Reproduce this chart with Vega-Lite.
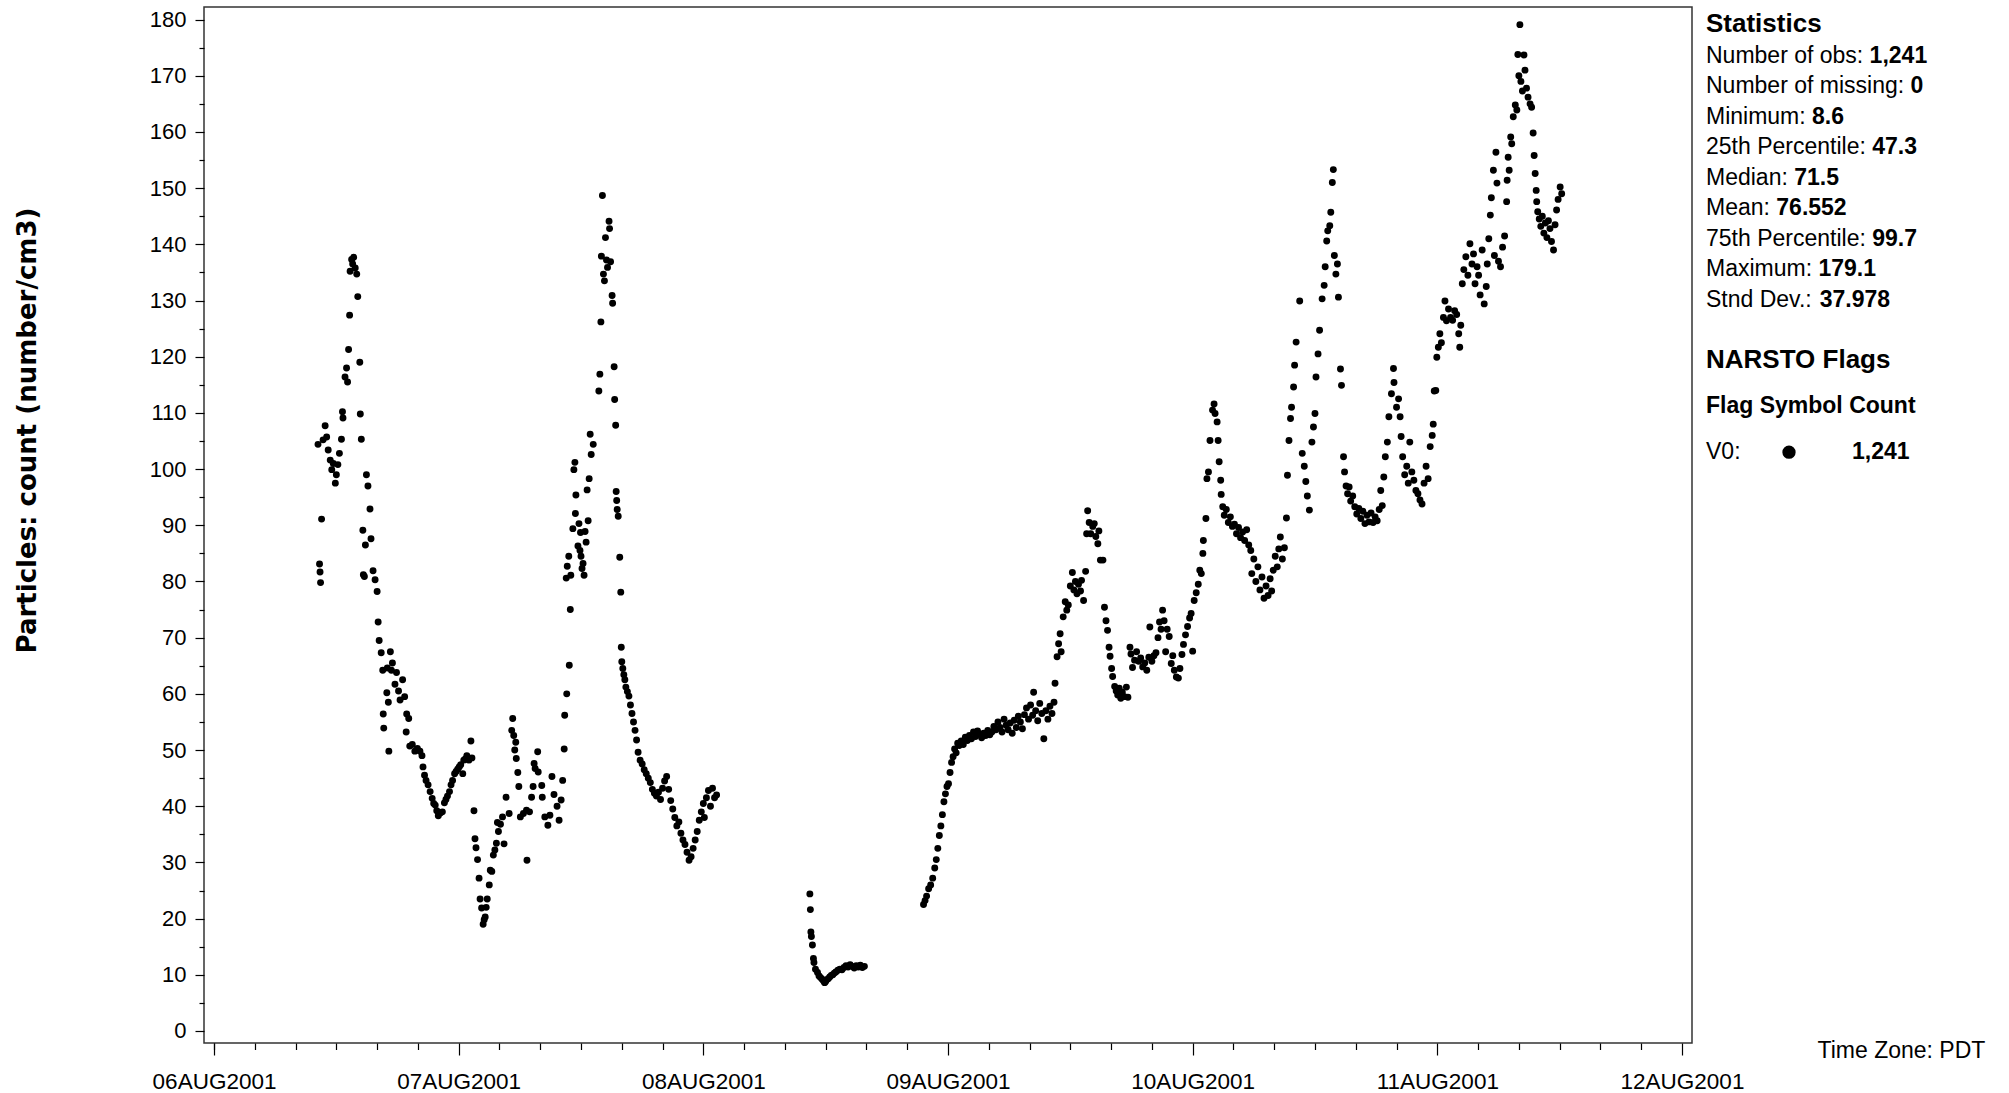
{
"$schema": "https://vega.github.io/schema/vega-lite/v6.json",
"width": 1488,
"height": 1036,
"autosize": {"type": "none"},
"padding": {"left": 204, "top": 7, "right": 317, "bottom": 50},
"background": "white",
"config": {"view": {"stroke": "#333", "strokeWidth": 1.5}, "font": "Liberation Sans"},
"datasets": {
"obs": [
{"t":"2001-08-06T10:12","v":104.4},{"t":"2001-08-06T10:21","v":83.1},{"t":"2001-08-06T10:24","v":81.7},{"t":"2001-08-06T10:27","v":79.8},{"t":"2001-08-06T10:33","v":91.1},{"t":"2001-08-06T10:42","v":105.2},{"t":"2001-08-06T10:54","v":107.7},{"t":"2001-08-06T11:03","v":105.7},{"t":"2001-08-06T11:12","v":103.4},{"t":"2001-08-06T11:24","v":101.6},{"t":"2001-08-06T11:33","v":99.9},{"t":"2001-08-06T11:42","v":101.0},{"t":"2001-08-06T11:54","v":97.5},{"t":"2001-08-06T12:00","v":99.0},{"t":"2001-08-06T12:09","v":100.8},{"t":"2001-08-06T12:18","v":102.8},{"t":"2001-08-06T12:30","v":105.3},{"t":"2001-08-06T12:36","v":110.2},{"t":"2001-08-06T12:39","v":109.1},{"t":"2001-08-06T12:51","v":116.4},{"t":"2001-08-06T13:00","v":118.0},{"t":"2001-08-06T13:06","v":115.5},{"t":"2001-08-06T13:12","v":121.3},{"t":"2001-08-06T13:18","v":127.4},{"t":"2001-08-06T13:21","v":135.2},{"t":"2001-08-06T13:30","v":137.3},{"t":"2001-08-06T13:36","v":136.5},{"t":"2001-08-06T13:42","v":137.7},{"t":"2001-08-06T13:51","v":135.8},{"t":"2001-08-06T14:00","v":134.7},{"t":"2001-08-06T14:06","v":130.7},{"t":"2001-08-06T14:18","v":119.0},{"t":"2001-08-06T14:21","v":109.8},{"t":"2001-08-06T14:27","v":105.3},{"t":"2001-08-06T14:36","v":89.1},{"t":"2001-08-06T14:39","v":81.2},{"t":"2001-08-06T14:45","v":80.9},{"t":"2001-08-06T14:51","v":86.5},{"t":"2001-08-06T14:57","v":99.0},{"t":"2001-08-06T15:06","v":97.0},{"t":"2001-08-06T15:18","v":92.9},{"t":"2001-08-06T15:24","v":87.6},{"t":"2001-08-06T15:36","v":81.9},{"t":"2001-08-06T15:48","v":80.3},{"t":"2001-08-06T16:00","v":78.2},{"t":"2001-08-06T16:06","v":72.8},{"t":"2001-08-06T16:12","v":69.5},{"t":"2001-08-06T16:24","v":67.3},{"t":"2001-08-06T16:33","v":64.2},{"t":"2001-08-06T16:36","v":56.4},{"t":"2001-08-06T16:39","v":53.9},{"t":"2001-08-06T16:57","v":60.2},{"t":"2001-08-06T17:00","v":64.6},{"t":"2001-08-06T17:06","v":58.5},{"t":"2001-08-06T17:09","v":49.8},{"t":"2001-08-06T17:18","v":67.5},{"t":"2001-08-06T17:24","v":64.2},{"t":"2001-08-06T17:30","v":65.5},{"t":"2001-08-06T17:45","v":61.7},{"t":"2001-08-06T17:54","v":63.8},{"t":"2001-08-06T18:06","v":60.5},{"t":"2001-08-06T18:15","v":58.9},{"t":"2001-08-06T18:30","v":62.5},{"t":"2001-08-06T18:42","v":59.5},{"t":"2001-08-06T18:51","v":53.2},{"t":"2001-08-06T18:54","v":56.4},{"t":"2001-08-06T19:06","v":55.6},{"t":"2001-08-06T19:12","v":50.7},{"t":"2001-08-06T19:27","v":51.0},{"t":"2001-08-06T19:42","v":49.8},{"t":"2001-08-06T19:57","v":50.3},{"t":"2001-08-06T20:12","v":49.8},{"t":"2001-08-06T20:24","v":49.0},{"t":"2001-08-06T20:30","v":47.0},{"t":"2001-08-06T20:39","v":45.5},{"t":"2001-08-06T20:48","v":44.6},{"t":"2001-08-06T21:00","v":43.8},{"t":"2001-08-06T21:12","v":42.6},{"t":"2001-08-06T21:24","v":41.4},{"t":"2001-08-06T21:33","v":40.5},{"t":"2001-08-06T21:42","v":40.2},{"t":"2001-08-06T21:51","v":39.2},{"t":"2001-08-06T22:00","v":38.3},{"t":"2001-08-06T22:12","v":38.8},{"t":"2001-08-06T22:24","v":39.0},{"t":"2001-08-06T22:36","v":40.6},{"t":"2001-08-06T22:45","v":41.2},{"t":"2001-08-06T22:54","v":41.8},{"t":"2001-08-06T23:06","v":42.6},{"t":"2001-08-06T23:15","v":43.8},{"t":"2001-08-06T23:24","v":44.6},{"t":"2001-08-06T23:36","v":45.8},{"t":"2001-08-06T23:45","v":46.2},{"t":"2001-08-06T23:54","v":46.6},
{"t":"2001-08-07T00:03","v":47.0},{"t":"2001-08-07T00:12","v":47.4},{"t":"2001-08-07T00:24","v":45.8},{"t":"2001-08-07T00:30","v":48.2},{"t":"2001-08-07T00:39","v":48.4},{"t":"2001-08-07T00:48","v":49.0},{"t":"2001-08-07T01:00","v":48.2},{"t":"2001-08-07T01:12","v":51.6},{"t":"2001-08-07T01:18","v":48.6},{"t":"2001-08-07T01:30","v":39.2},{"t":"2001-08-07T01:36","v":34.2},{"t":"2001-08-07T01:42","v":32.6},{"t":"2001-08-07T01:51","v":30.5},{"t":"2001-08-07T02:00","v":27.2},{"t":"2001-08-07T02:06","v":23.5},{"t":"2001-08-07T02:15","v":21.9},{"t":"2001-08-07T02:24","v":19.0},{"t":"2001-08-07T02:30","v":19.8},{"t":"2001-08-07T02:36","v":20.3},{"t":"2001-08-07T02:42","v":22.0},{"t":"2001-08-07T02:48","v":23.5},{"t":"2001-08-07T03:00","v":26.0},{"t":"2001-08-07T03:06","v":28.6},{"t":"2001-08-07T03:15","v":28.4},{"t":"2001-08-07T03:24","v":31.3},{"t":"2001-08-07T03:33","v":32.2},{"t":"2001-08-07T03:42","v":33.4},{"t":"2001-08-07T03:48","v":37.1},{"t":"2001-08-07T03:54","v":35.5},{"t":"2001-08-07T04:06","v":36.8},{"t":"2001-08-07T04:18","v":38.1},{"t":"2001-08-07T04:27","v":33.3},{"t":"2001-08-07T04:39","v":41.6},{"t":"2001-08-07T04:57","v":38.7},{"t":"2001-08-07T05:12","v":53.5},{"t":"2001-08-07T05:18","v":55.6},{"t":"2001-08-07T05:24","v":52.6},{"t":"2001-08-07T05:30","v":50.0},{"t":"2001-08-07T05:36","v":51.4},{"t":"2001-08-07T05:39","v":48.5},{"t":"2001-08-07T05:48","v":46.0},{"t":"2001-08-07T05:54","v":43.5},{"t":"2001-08-07T06:03","v":38.1},{"t":"2001-08-07T06:21","v":38.7},{"t":"2001-08-07T06:39","v":39.3},{"t":"2001-08-07T06:42","v":30.4},{"t":"2001-08-07T06:57","v":39.0},{"t":"2001-08-07T07:09","v":41.6},{"t":"2001-08-07T07:18","v":43.5},{"t":"2001-08-07T07:24","v":47.6},{"t":"2001-08-07T07:30","v":46.7},{"t":"2001-08-07T07:45","v":49.7},{"t":"2001-08-07T07:48","v":46.1},{"t":"2001-08-07T08:09","v":43.7},{"t":"2001-08-07T08:12","v":41.6},{"t":"2001-08-07T08:27","v":38.1},{"t":"2001-08-07T08:45","v":36.6},{"t":"2001-08-07T08:57","v":38.4},{"t":"2001-08-07T09:09","v":45.3},{"t":"2001-08-07T09:21","v":42.1},{"t":"2001-08-07T09:39","v":40.0},{"t":"2001-08-07T09:51","v":37.5},{"t":"2001-08-07T10:03","v":41.1},{"t":"2001-08-07T10:12","v":44.6},{"t":"2001-08-07T10:21","v":50.2},{"t":"2001-08-07T10:24","v":56.2},{"t":"2001-08-07T10:33","v":80.6},{"t":"2001-08-07T10:36","v":60.0},{"t":"2001-08-07T10:39","v":82.7},{"t":"2001-08-07T10:48","v":84.5},{"t":"2001-08-07T10:51","v":65.1},{"t":"2001-08-07T10:57","v":75.0},{"t":"2001-08-07T11:00","v":81.1},{"t":"2001-08-07T11:12","v":89.4},{"t":"2001-08-07T11:18","v":99.9},{"t":"2001-08-07T11:24","v":101.2},{"t":"2001-08-07T11:27","v":92.1},{"t":"2001-08-07T11:30","v":95.4},{"t":"2001-08-07T11:42","v":86.3},{"t":"2001-08-07T11:48","v":90.3},{"t":"2001-08-07T11:54","v":85.5},{"t":"2001-08-07T11:57","v":88.7},{"t":"2001-08-07T12:00","v":84.5},{"t":"2001-08-07T12:06","v":82.3},{"t":"2001-08-07T12:12","v":83.2},{"t":"2001-08-07T12:18","v":81.1},{"t":"2001-08-07T12:24","v":88.9},{"t":"2001-08-07T12:30","v":87.0},{"t":"2001-08-07T12:36","v":96.3},{"t":"2001-08-07T12:42","v":90.8},{"t":"2001-08-07T12:48","v":98.3},{"t":"2001-08-07T12:54","v":106.2},{"t":"2001-08-07T13:00","v":102.6},{"t":"2001-08-07T13:12","v":104.4},{"t":"2001-08-07T13:45","v":113.9},{"t":"2001-08-07T13:51","v":116.9},{"t":"2001-08-07T13:57","v":126.2},{"t":"2001-08-07T14:00","v":137.9},{"t":"2001-08-07T14:06","v":148.7},{"t":"2001-08-07T14:12","v":134.7},{"t":"2001-08-07T14:18","v":133.5},{"t":"2001-08-07T14:24","v":141.2},{"t":"2001-08-07T14:30","v":137.2},{"t":"2001-08-07T14:36","v":135.9},{"t":"2001-08-07T14:45","v":144.1},{"t":"2001-08-07T14:48","v":142.8},{"t":"2001-08-07T14:54","v":136.9},{"t":"2001-08-07T15:03","v":130.9},{"t":"2001-08-07T15:06","v":129.5},{"t":"2001-08-07T15:15","v":118.2},{"t":"2001-08-07T15:18","v":112.4},{"t":"2001-08-07T15:24","v":107.8},{"t":"2001-08-07T15:27","v":96.0},{"t":"2001-08-07T15:30","v":94.4},{"t":"2001-08-07T15:33","v":92.8},{"t":"2001-08-07T15:39","v":91.6},{"t":"2001-08-07T15:48","v":84.3},{"t":"2001-08-07T15:54","v":78.1},{"t":"2001-08-07T15:57","v":68.3},{"t":"2001-08-07T16:00","v":65.7},{"t":"2001-08-07T16:06","v":64.5},{"t":"2001-08-07T16:12","v":63.4},{"t":"2001-08-07T16:18","v":62.5},{"t":"2001-08-07T16:24","v":61.2},{"t":"2001-08-07T16:33","v":60.4},{"t":"2001-08-07T16:42","v":59.6},{"t":"2001-08-07T16:51","v":58.0},{"t":"2001-08-07T17:00","v":56.5},{"t":"2001-08-07T17:09","v":55.0},{"t":"2001-08-07T17:18","v":53.5},{"t":"2001-08-07T17:27","v":51.8},{"t":"2001-08-07T17:36","v":49.6},{"t":"2001-08-07T17:48","v":48.2},{"t":"2001-08-07T18:00","v":47.5},{"t":"2001-08-07T18:12","v":46.5},{"t":"2001-08-07T18:24","v":45.8},{"t":"2001-08-07T18:36","v":45.0},{"t":"2001-08-07T18:48","v":44.2},{"t":"2001-08-07T19:00","v":43.0},{"t":"2001-08-07T19:12","v":42.3},{"t":"2001-08-07T19:24","v":41.8},{"t":"2001-08-07T19:36","v":42.5},{"t":"2001-08-07T19:48","v":41.2},{"t":"2001-08-07T20:00","v":43.2},{"t":"2001-08-07T20:12","v":44.5},{"t":"2001-08-07T20:24","v":45.3},{"t":"2001-08-07T20:36","v":43.0},{"t":"2001-08-07T20:48","v":41.0},{"t":"2001-08-07T21:00","v":39.5},{"t":"2001-08-07T21:12","v":38.0},{"t":"2001-08-07T21:24","v":36.5},{"t":"2001-08-07T21:36","v":37.2},{"t":"2001-08-07T21:48","v":35.2},{"t":"2001-08-07T22:00","v":34.0},{"t":"2001-08-07T22:12","v":33.2},{"t":"2001-08-07T22:24","v":31.8},{"t":"2001-08-07T22:36","v":30.4},{"t":"2001-08-07T22:48","v":31.0},{"t":"2001-08-07T23:00","v":32.5},{"t":"2001-08-07T23:12","v":34.0},{"t":"2001-08-07T23:24","v":35.5},{"t":"2001-08-07T23:36","v":37.5},{"t":"2001-08-07T23:48","v":39.0},
{"t":"2001-08-08T00:00","v":40.5},{"t":"2001-08-08T00:06","v":38.0},{"t":"2001-08-08T00:18","v":41.5},{"t":"2001-08-08T00:30","v":42.8},{"t":"2001-08-08T00:42","v":40.0},{"t":"2001-08-08T00:54","v":43.2},{"t":"2001-08-08T01:06","v":41.5},{"t":"2001-08-08T01:18","v":42.0},
{"t":"2001-08-08T10:27","v":24.4},{"t":"2001-08-08T10:30","v":21.6},{"t":"2001-08-08T10:33","v":17.6},{"t":"2001-08-08T10:36","v":16.8},{"t":"2001-08-08T10:42","v":15.3},{"t":"2001-08-08T10:48","v":12.9},{"t":"2001-08-08T10:51","v":12.2},{"t":"2001-08-08T11:00","v":11.0},{"t":"2001-08-08T11:12","v":10.4},{"t":"2001-08-08T11:21","v":9.8},{"t":"2001-08-08T11:30","v":9.5},{"t":"2001-08-08T11:39","v":9.2},{"t":"2001-08-08T11:48","v":8.9},{"t":"2001-08-08T11:54","v":8.6},{"t":"2001-08-08T12:00","v":8.8},{"t":"2001-08-08T12:06","v":9.1},{"t":"2001-08-08T12:15","v":9.3},{"t":"2001-08-08T12:24","v":9.6},{"t":"2001-08-08T12:33","v":9.9},{"t":"2001-08-08T12:42","v":10.0},{"t":"2001-08-08T12:51","v":10.3},{"t":"2001-08-08T13:00","v":10.5},{"t":"2001-08-08T13:12","v":10.8},{"t":"2001-08-08T13:24","v":11.0},{"t":"2001-08-08T13:36","v":10.9},{"t":"2001-08-08T13:48","v":11.3},{"t":"2001-08-08T14:00","v":11.6},{"t":"2001-08-08T14:12","v":11.4},{"t":"2001-08-08T14:24","v":11.8},{"t":"2001-08-08T14:36","v":11.5},{"t":"2001-08-08T14:48","v":11.2},{"t":"2001-08-08T15:00","v":11.6},{"t":"2001-08-08T15:12","v":11.4},{"t":"2001-08-08T15:24","v":11.7},{"t":"2001-08-08T15:36","v":11.3},{"t":"2001-08-08T15:48","v":11.5},
{"t":"2001-08-08T21:36","v":22.5},{"t":"2001-08-08T21:45","v":23.2},{"t":"2001-08-08T21:54","v":24.0},{"t":"2001-08-08T22:06","v":25.3},{"t":"2001-08-08T22:18","v":26.0},{"t":"2001-08-08T22:30","v":27.2},{"t":"2001-08-08T22:42","v":29.0},{"t":"2001-08-08T22:51","v":30.5},{"t":"2001-08-08T23:00","v":32.5},{"t":"2001-08-08T23:09","v":34.8},{"t":"2001-08-08T23:18","v":36.5},{"t":"2001-08-08T23:27","v":38.5},{"t":"2001-08-08T23:36","v":40.8},{"t":"2001-08-08T23:45","v":42.2},{"t":"2001-08-08T23:54","v":43.5},
{"t":"2001-08-09T00:03","v":44.0},{"t":"2001-08-09T00:12","v":46.0},{"t":"2001-08-09T00:21","v":47.8},{"t":"2001-08-09T00:30","v":48.8},{"t":"2001-08-09T00:39","v":50.2},{"t":"2001-08-09T00:48","v":49.5},{"t":"2001-08-09T00:57","v":51.2},{"t":"2001-08-09T01:06","v":50.8},{"t":"2001-08-09T01:18","v":51.6},{"t":"2001-08-09T01:30","v":51.0},{"t":"2001-08-09T01:42","v":52.3},{"t":"2001-08-09T01:54","v":51.7},{"t":"2001-08-09T02:06","v":52.6},{"t":"2001-08-09T02:18","v":52.0},{"t":"2001-08-09T02:30","v":53.2},{"t":"2001-08-09T02:42","v":52.4},{"t":"2001-08-09T02:54","v":53.4},{"t":"2001-08-09T03:06","v":52.8},{"t":"2001-08-09T03:18","v":52.2},{"t":"2001-08-09T03:30","v":53.0},{"t":"2001-08-09T03:42","v":52.6},{"t":"2001-08-09T03:54","v":53.5},{"t":"2001-08-09T04:06","v":52.7},{"t":"2001-08-09T04:18","v":53.2},{"t":"2001-08-09T04:30","v":54.2},{"t":"2001-08-09T04:42","v":53.6},{"t":"2001-08-09T04:54","v":55.0},{"t":"2001-08-09T05:06","v":54.0},{"t":"2001-08-09T05:18","v":53.2},{"t":"2001-08-09T05:30","v":55.5},{"t":"2001-08-09T05:42","v":54.4},{"t":"2001-08-09T05:54","v":53.6},{"t":"2001-08-09T06:06","v":54.8},{"t":"2001-08-09T06:18","v":53.0},{"t":"2001-08-09T06:30","v":55.3},{"t":"2001-08-09T06:42","v":54.0},{"t":"2001-08-09T06:54","v":56.0},{"t":"2001-08-09T07:06","v":55.0},{"t":"2001-08-09T07:18","v":53.8},{"t":"2001-08-09T07:30","v":56.3},{"t":"2001-08-09T07:42","v":57.5},{"t":"2001-08-09T07:54","v":55.5},{"t":"2001-08-09T08:06","v":58.0},{"t":"2001-08-09T08:18","v":56.2},{"t":"2001-08-09T08:24","v":60.3},{"t":"2001-08-09T08:36","v":57.0},{"t":"2001-08-09T08:48","v":55.2},{"t":"2001-08-09T09:00","v":58.3},{"t":"2001-08-09T09:12","v":56.5},{"t":"2001-08-09T09:24","v":52.0},{"t":"2001-08-09T09:36","v":57.0},{"t":"2001-08-09T09:48","v":55.5},{"t":"2001-08-09T10:00","v":57.8},{"t":"2001-08-09T10:12","v":56.5},{"t":"2001-08-09T10:24","v":58.5},{"t":"2001-08-09T10:30","v":61.9},{"t":"2001-08-09T10:42","v":66.6},{"t":"2001-08-09T10:51","v":68.9},{"t":"2001-08-09T11:00","v":70.7},{"t":"2001-08-09T11:06","v":67.5},{"t":"2001-08-09T11:18","v":73.7},{"t":"2001-08-09T11:30","v":76.4},{"t":"2001-08-09T11:39","v":74.9},{"t":"2001-08-09T11:48","v":75.8},{"t":"2001-08-09T12:00","v":79.2},{"t":"2001-08-09T12:12","v":81.6},{"t":"2001-08-09T12:21","v":78.5},{"t":"2001-08-09T12:30","v":80.0},{"t":"2001-08-09T12:39","v":77.8},{"t":"2001-08-09T12:48","v":79.5},{"t":"2001-08-09T13:00","v":78.3},{"t":"2001-08-09T13:06","v":80.2},{"t":"2001-08-09T13:18","v":76.6},{"t":"2001-08-09T13:30","v":81.8},{"t":"2001-08-09T13:36","v":88.5},{"t":"2001-08-09T13:42","v":92.6},{"t":"2001-08-09T13:51","v":90.5},{"t":"2001-08-09T14:00","v":88.5},{"t":"2001-08-09T14:12","v":89.8},{"t":"2001-08-09T14:21","v":90.3},{"t":"2001-08-09T14:30","v":88.0},{"t":"2001-08-09T14:42","v":86.7},{"t":"2001-08-09T14:48","v":89.0},{"t":"2001-08-09T14:57","v":83.8},{"t":"2001-08-09T15:12","v":83.8},{"t":"2001-08-09T15:21","v":75.4},{"t":"2001-08-09T15:30","v":73.0},{"t":"2001-08-09T15:39","v":71.3},{"t":"2001-08-09T15:48","v":68.3},{"t":"2001-08-09T15:54","v":66.7},{"t":"2001-08-09T16:03","v":64.5},{"t":"2001-08-09T16:09","v":63.1},{"t":"2001-08-09T16:21","v":61.3},{"t":"2001-08-09T16:30","v":60.5},{"t":"2001-08-09T16:39","v":59.8},{"t":"2001-08-09T16:48","v":61.0},{"t":"2001-08-09T16:57","v":59.2},{"t":"2001-08-09T17:06","v":60.3},{"t":"2001-08-09T17:18","v":59.5},{"t":"2001-08-09T17:30","v":61.2},{"t":"2001-08-09T17:39","v":59.4},{"t":"2001-08-09T17:51","v":68.3},{"t":"2001-08-09T17:57","v":67.1},{"t":"2001-08-09T18:06","v":64.7},{"t":"2001-08-09T18:18","v":66.0},{"t":"2001-08-09T18:30","v":67.5},{"t":"2001-08-09T18:42","v":65.8},{"t":"2001-08-09T18:54","v":66.4},{"t":"2001-08-09T19:06","v":64.8},{"t":"2001-08-09T19:18","v":65.5},{"t":"2001-08-09T19:30","v":64.2},{"t":"2001-08-09T19:42","v":66.5},{"t":"2001-08-09T19:48","v":71.9},{"t":"2001-08-09T20:00","v":65.8},{"t":"2001-08-09T20:12","v":66.8},{"t":"2001-08-09T20:24","v":67.3},{"t":"2001-08-09T20:36","v":70.0},{"t":"2001-08-09T20:45","v":72.8},{"t":"2001-08-09T20:54","v":71.5},{"t":"2001-08-09T21:03","v":74.9},{"t":"2001-08-09T21:12","v":73.0},{"t":"2001-08-09T21:21","v":67.5},{"t":"2001-08-09T21:30","v":71.5},{"t":"2001-08-09T21:42","v":70.2},{"t":"2001-08-09T21:54","v":65.4},{"t":"2001-08-09T22:03","v":66.8},{"t":"2001-08-09T22:12","v":64.2},{"t":"2001-08-09T22:24","v":63.0},{"t":"2001-08-09T22:36","v":62.8},{"t":"2001-08-09T22:45","v":64.5},{"t":"2001-08-09T22:57","v":67.0},{"t":"2001-08-09T23:06","v":68.8},{"t":"2001-08-09T23:18","v":70.5},{"t":"2001-08-09T23:30","v":72.0},{"t":"2001-08-09T23:42","v":73.5},{"t":"2001-08-09T23:51","v":74.3},
{"t":"2001-08-10T00:00","v":67.6},{"t":"2001-08-10T00:09","v":76.6},{"t":"2001-08-10T00:21","v":78.0},{"t":"2001-08-10T00:33","v":79.5},{"t":"2001-08-10T00:42","v":82.0},{"t":"2001-08-10T00:51","v":81.4},{"t":"2001-08-10T01:00","v":85.0},{"t":"2001-08-10T01:03","v":87.3},{"t":"2001-08-10T01:18","v":91.2},{"t":"2001-08-10T01:24","v":98.3},{"t":"2001-08-10T01:33","v":99.5},{"t":"2001-08-10T01:42","v":105.1},{"t":"2001-08-10T01:57","v":110.5},{"t":"2001-08-10T02:06","v":111.6},{"t":"2001-08-10T02:12","v":109.9},{"t":"2001-08-10T02:24","v":108.4},{"t":"2001-08-10T02:30","v":105.1},{"t":"2001-08-10T02:36","v":101.3},{"t":"2001-08-10T02:45","v":98.0},{"t":"2001-08-10T02:48","v":95.5},{"t":"2001-08-10T02:57","v":93.3},{"t":"2001-08-10T03:06","v":91.8},{"t":"2001-08-10T03:18","v":92.8},{"t":"2001-08-10T03:30","v":90.5},{"t":"2001-08-10T03:42","v":91.5},{"t":"2001-08-10T03:54","v":89.8},{"t":"2001-08-10T04:06","v":90.2},{"t":"2001-08-10T04:18","v":88.5},{"t":"2001-08-10T04:30","v":89.6},{"t":"2001-08-10T04:42","v":87.8},{"t":"2001-08-10T04:54","v":88.8},{"t":"2001-08-10T05:06","v":87.3},{"t":"2001-08-10T05:18","v":89.2},{"t":"2001-08-10T05:30","v":86.5},{"t":"2001-08-10T05:42","v":85.5},{"t":"2001-08-10T05:48","v":81.4},{"t":"2001-08-10T06:00","v":84.0},{"t":"2001-08-10T06:12","v":80.0},{"t":"2001-08-10T06:24","v":82.6},{"t":"2001-08-10T06:36","v":78.5},{"t":"2001-08-10T06:48","v":80.8},{"t":"2001-08-10T07:00","v":77.0},{"t":"2001-08-10T07:12","v":79.2},{"t":"2001-08-10T07:24","v":77.5},{"t":"2001-08-10T07:36","v":80.5},{"t":"2001-08-10T07:45","v":78.3},{"t":"2001-08-10T07:54","v":82.0},{"t":"2001-08-10T08:06","v":84.5},{"t":"2001-08-10T08:18","v":82.6},{"t":"2001-08-10T08:27","v":85.8},{"t":"2001-08-10T08:36","v":87.9},{"t":"2001-08-10T08:48","v":84.0},{"t":"2001-08-10T09:00","v":86.0},{"t":"2001-08-10T09:12","v":91.3},{"t":"2001-08-10T09:18","v":98.9},{"t":"2001-08-10T09:27","v":105.1},{"t":"2001-08-10T09:36","v":109.0},{"t":"2001-08-10T09:42","v":111.0},{"t":"2001-08-10T09:54","v":114.6},{"t":"2001-08-10T10:00","v":118.5},{"t":"2001-08-10T10:09","v":122.6},{"t":"2001-08-10T10:30","v":129.9},{"t":"2001-08-10T10:45","v":102.8},{"t":"2001-08-10T10:57","v":100.5},{"t":"2001-08-10T11:06","v":97.8},{"t":"2001-08-10T11:15","v":95.2},{"t":"2001-08-10T11:27","v":92.7},{"t":"2001-08-10T11:42","v":104.8},{"t":"2001-08-10T11:51","v":107.5},{"t":"2001-08-10T12:00","v":109.9},{"t":"2001-08-10T12:06","v":116.4},{"t":"2001-08-10T12:18","v":120.5},{"t":"2001-08-10T12:27","v":124.7},{"t":"2001-08-10T12:42","v":130.3},{"t":"2001-08-10T12:54","v":132.7},{"t":"2001-08-10T13:00","v":136.0},{"t":"2001-08-10T13:09","v":140.6},{"t":"2001-08-10T13:15","v":142.4},{"t":"2001-08-10T13:27","v":143.3},{"t":"2001-08-10T13:33","v":145.7},{"t":"2001-08-10T13:42","v":151.0},{"t":"2001-08-10T13:48","v":153.3},{"t":"2001-08-10T13:54","v":138.0},{"t":"2001-08-10T14:03","v":134.7},{"t":"2001-08-10T14:12","v":136.5},{"t":"2001-08-10T14:18","v":130.6},{"t":"2001-08-10T14:30","v":117.8},{"t":"2001-08-10T14:36","v":114.9},{"t":"2001-08-10T14:48","v":102.2},{"t":"2001-08-10T14:54","v":99.5},{"t":"2001-08-10T15:03","v":97.0},{"t":"2001-08-10T15:12","v":95.6},{"t":"2001-08-10T15:21","v":96.8},{"t":"2001-08-10T15:30","v":94.3},{"t":"2001-08-10T15:42","v":95.2},{"t":"2001-08-10T15:54","v":93.3},{"t":"2001-08-10T16:06","v":92.0},{"t":"2001-08-10T16:18","v":93.0},{"t":"2001-08-10T16:30","v":91.2},{"t":"2001-08-10T16:42","v":92.5},{"t":"2001-08-10T16:54","v":90.3},{"t":"2001-08-10T17:06","v":91.8},{"t":"2001-08-10T17:18","v":90.6},{"t":"2001-08-10T17:30","v":92.2},{"t":"2001-08-10T17:42","v":90.5},{"t":"2001-08-10T17:54","v":91.5},{"t":"2001-08-10T18:06","v":90.8},{"t":"2001-08-10T18:18","v":92.8},{"t":"2001-08-10T18:27","v":96.2},{"t":"2001-08-10T18:36","v":93.5},{"t":"2001-08-10T18:45","v":98.6},{"t":"2001-08-10T18:54","v":102.2},{"t":"2001-08-10T19:06","v":104.8},{"t":"2001-08-10T19:15","v":109.3},{"t":"2001-08-10T19:30","v":113.4},{"t":"2001-08-10T19:42","v":117.9},{"t":"2001-08-10T19:45","v":115.4},{"t":"2001-08-10T20:00","v":111.0},{"t":"2001-08-10T20:12","v":112.5},{"t":"2001-08-10T20:21","v":109.3},{"t":"2001-08-10T20:27","v":105.8},{"t":"2001-08-10T20:36","v":102.2},{"t":"2001-08-10T20:48","v":99.0},{"t":"2001-08-10T21:00","v":100.5},{"t":"2001-08-10T21:09","v":97.5},{"t":"2001-08-10T21:18","v":104.8},{"t":"2001-08-10T21:30","v":99.5},{"t":"2001-08-10T21:42","v":98.0},{"t":"2001-08-10T21:54","v":96.2},{"t":"2001-08-10T22:06","v":95.6},{"t":"2001-08-10T22:18","v":94.5},{"t":"2001-08-10T22:30","v":93.8},{"t":"2001-08-10T22:42","v":97.5},{"t":"2001-08-10T22:54","v":100.5},{"t":"2001-08-10T23:06","v":98.3},{"t":"2001-08-10T23:18","v":104.0},{"t":"2001-08-10T23:30","v":106.0},{"t":"2001-08-10T23:36","v":108.0},{"t":"2001-08-10T23:42","v":113.9},{"t":"2001-08-10T23:51","v":114.0},{"t":"2001-08-10T23:57","v":119.9},
{"t":"2001-08-11T00:06","v":121.7},{"t":"2001-08-11T00:15","v":124.1},{"t":"2001-08-11T00:24","v":122.5},{"t":"2001-08-11T00:36","v":127.0},{"t":"2001-08-11T00:45","v":129.9},{"t":"2001-08-11T00:54","v":126.4},{"t":"2001-08-11T01:06","v":128.5},{"t":"2001-08-11T01:18","v":127.0},{"t":"2001-08-11T01:30","v":126.5},{"t":"2001-08-11T01:42","v":128.2},{"t":"2001-08-11T01:54","v":127.5},{"t":"2001-08-11T02:06","v":124.1},{"t":"2001-08-11T02:12","v":121.7},{"t":"2001-08-11T02:18","v":125.6},{"t":"2001-08-11T02:27","v":133.0},{"t":"2001-08-11T02:36","v":135.5},{"t":"2001-08-11T02:48","v":137.8},{"t":"2001-08-11T03:00","v":134.5},{"t":"2001-08-11T03:12","v":140.1},{"t":"2001-08-11T03:24","v":136.5},{"t":"2001-08-11T03:33","v":138.3},{"t":"2001-08-11T03:42","v":133.0},{"t":"2001-08-11T03:54","v":136.0},{"t":"2001-08-11T04:03","v":134.5},{"t":"2001-08-11T04:12","v":131.0},{"t":"2001-08-11T04:24","v":139.0},{"t":"2001-08-11T04:36","v":129.4},{"t":"2001-08-11T04:48","v":132.5},{"t":"2001-08-11T04:54","v":136.5},{"t":"2001-08-11T05:03","v":141.0},{"t":"2001-08-11T05:12","v":145.2},{"t":"2001-08-11T05:18","v":148.3},{"t":"2001-08-11T05:30","v":153.2},{"t":"2001-08-11T05:36","v":138.0},{"t":"2001-08-11T05:45","v":156.4},{"t":"2001-08-11T05:51","v":150.9},{"t":"2001-08-11T06:00","v":137.0},{"t":"2001-08-11T06:12","v":136.0},{"t":"2001-08-11T06:24","v":139.5},{"t":"2001-08-11T06:36","v":141.5},{"t":"2001-08-11T06:48","v":147.6},{"t":"2001-08-11T06:51","v":151.4},{"t":"2001-08-11T06:57","v":155.5},{"t":"2001-08-11T07:03","v":153.2},{"t":"2001-08-11T07:12","v":159.1},{"t":"2001-08-11T07:18","v":157.9},{"t":"2001-08-11T07:27","v":162.7},{"t":"2001-08-11T07:39","v":164.8},{"t":"2001-08-11T07:48","v":163.9},{"t":"2001-08-11T07:54","v":173.8},{"t":"2001-08-11T08:00","v":170.0},{"t":"2001-08-11T08:06","v":179.1},{"t":"2001-08-11T08:12","v":169.0},{"t":"2001-08-11T08:21","v":167.3},{"t":"2001-08-11T08:30","v":173.7},{"t":"2001-08-11T08:36","v":171.0},{"t":"2001-08-11T08:45","v":167.8},{"t":"2001-08-11T08:54","v":166.2},{"t":"2001-08-11T09:06","v":165.0},{"t":"2001-08-11T09:15","v":164.4},{"t":"2001-08-11T09:24","v":159.8},{"t":"2001-08-11T09:30","v":155.8},{"t":"2001-08-11T09:36","v":152.6},{"t":"2001-08-11T09:42","v":149.6},{"t":"2001-08-11T09:45","v":147.6},{"t":"2001-08-11T09:51","v":145.8},{"t":"2001-08-11T10:00","v":144.5},{"t":"2001-08-11T10:09","v":143.2},{"t":"2001-08-11T10:18","v":145.0},{"t":"2001-08-11T10:27","v":142.0},{"t":"2001-08-11T10:36","v":143.8},{"t":"2001-08-11T10:45","v":141.2},{"t":"2001-08-11T10:54","v":144.2},{"t":"2001-08-11T11:03","v":142.8},{"t":"2001-08-11T11:12","v":140.5},{"t":"2001-08-11T11:24","v":139.0},{"t":"2001-08-11T11:33","v":143.5},{"t":"2001-08-11T11:42","v":146.1},{"t":"2001-08-11T11:51","v":148.0},{"t":"2001-08-11T12:03","v":150.2},{"t":"2001-08-11T12:12","v":149.0}
],
"stats": [
{"line":1,"label":"Number of obs:","value":"1,241"},
{"line":2,"label":"Number of missing:","value":"0"},
{"line":3,"label":"Minimum:","value":"8.6"},
{"line":4,"label":"25th Percentile:","value":"47.3"},
{"line":5,"label":"Median:","value":"71.5"},
{"line":6,"label":"Mean:","value":"76.552"},
{"line":7,"label":"75th Percentile:","value":"99.7"},
{"line":8,"label":"Maximum:","value":"179.1"},
{"line":9,"label":"Stnd Dev.:","value":"37.978"}
],
"heads": [
{"line":0,"text":"Statistics"},
{"line":11,"text":"NARSTO Flags"}
],
"subheads": [
{"line":12.5,"text":"Flag Symbol Count"}
],
"flags": [
{"line":14,"flag":"V0:","count":"1,241"}
]
},
"layer": [
{
"data": {"name": "obs"},
"mark": {"type": "point", "opacity": 0},
"encoding": {
"x": {"field": "t", "type": "temporal",
"scale": {"domain": ["2001-08-05T23:01", "2001-08-12T00:59"], "nice": false},
"axis": {"orient": "bottom", "values": [{"year":2001,"month":8,"date":6,"hours":0},{"year":2001,"month":8,"date":6,"hours":4},{"year":2001,"month":8,"date":6,"hours":8},{"year":2001,"month":8,"date":6,"hours":12},{"year":2001,"month":8,"date":6,"hours":16},{"year":2001,"month":8,"date":6,"hours":20},{"year":2001,"month":8,"date":7,"hours":4},{"year":2001,"month":8,"date":7,"hours":8},{"year":2001,"month":8,"date":7,"hours":12},{"year":2001,"month":8,"date":7,"hours":16},{"year":2001,"month":8,"date":7,"hours":20},{"year":2001,"month":8,"date":8,"hours":4},{"year":2001,"month":8,"date":8,"hours":8},{"year":2001,"month":8,"date":8,"hours":12},{"year":2001,"month":8,"date":8,"hours":16},{"year":2001,"month":8,"date":8,"hours":20},{"year":2001,"month":8,"date":9,"hours":4},{"year":2001,"month":8,"date":9,"hours":8},{"year":2001,"month":8,"date":9,"hours":12},{"year":2001,"month":8,"date":9,"hours":16},{"year":2001,"month":8,"date":9,"hours":20},{"year":2001,"month":8,"date":10,"hours":4},{"year":2001,"month":8,"date":10,"hours":8},{"year":2001,"month":8,"date":10,"hours":12},{"year":2001,"month":8,"date":10,"hours":16},{"year":2001,"month":8,"date":10,"hours":20},{"year":2001,"month":8,"date":11,"hours":4},{"year":2001,"month":8,"date":11,"hours":8},{"year":2001,"month":8,"date":11,"hours":12},{"year":2001,"month":8,"date":11,"hours":16},{"year":2001,"month":8,"date":11,"hours":20}], "labels": false, "domain": false, "grid": false, "tickSize": 6.5, "tickColor": "#000", "tickWidth": 1.2, "title": null}},
"y": {"field": "v", "type": "quantitative",
"scale": {"domain": [-2.14, 182.24], "nice": false, "zero": false},
"axis": {"orient": "left", "values": [5,15,25,35,45,55,65,75,85,95,105,115,125,135,145,155,165,175], "labels": false, "domain": false, "grid": false, "tickSize": 5, "tickColor": "#000", "tickWidth": 1.2, "title": null}}
}
},
{
"data": {"name": "obs"},
"mark": {"type": "circle", "size": 48, "color": "#000", "opacity": 1},
"encoding": {
"x": {"field": "t", "type": "temporal",
"scale": {"domain": ["2001-08-05T23:01", "2001-08-12T00:59"], "nice": false},
"axis": {"orient": "bottom", "values": [{"year":2001,"month":8,"date":6},{"year":2001,"month":8,"date":7},{"year":2001,"month":8,"date":8},{"year":2001,"month":8,"date":9},{"year":2001,"month":8,"date":10},{"year":2001,"month":8,"date":11},{"year":2001,"month":8,"date":12}], "labelExpr": "upper(timeFormat(datum.value, '%d%b%Y'))", "labelFont": "Liberation Sans", "labelFontSize": 22.5, "labelColor": "#000", "labelPadding": 15, "labelFlush": false, "labelOverlap": false, "domain": false, "grid": false, "tickSize": 12, "tickColor": "#000", "tickWidth": 1.2,
"title": "Time Zone: PDT", "titleX": 1613, "titleY": 14, "titleAlign": "left", "titleBaseline": "alphabetic", "titleFont": "Liberation Sans", "titleFontSize": 23, "titleFontWeight": "normal", "titleColor": "#000"}},
"y": {"field": "v", "type": "quantitative",
"scale": {"domain": [-2.14, 182.24], "nice": false, "zero": false},
"axis": {"orient": "left", "values": [0,10,20,30,40,50,60,70,80,90,100,110,120,130,140,150,160,170,180], "labelFont": "Liberation Sans", "labelFontSize": 22, "labelColor": "#000", "labelPadding": 9, "domain": false, "grid": false, "tickSize": 9, "tickColor": "#000", "tickWidth": 1.2,
"title": "Particles: count (number/cm3)", "titleFont": "DejaVu Sans", "titleFontSize": 26, "titleFontWeight": "bold", "titleColor": "#000", "titleX": -177, "titleY": 423, "titleAngle": 270, "titleAlign": "center", "titleBaseline": "middle"}}
}
},
{
"data": {"name": "stats"},
"mark": {"type": "text", "align": "left", "baseline": "alphabetic", "x": {"expr": "width + 14"}, "font": "Liberation Sans", "fontSize": 23, "color": "#000"},
"encoding": {
"y": {"field": "line", "type": "quantitative", "scale": {"domain": [-0.826, 33.141], "reverse": true, "nice": false, "zero": false}, "axis": null},
"text": {"field": "label"}
}
},
{
"data": {"name": "stats"},
"mark": {"type": "text", "align": "left", "baseline": "alphabetic", "x": {"expr": "width + 14 + 23*(0.556*length(datum.label) + 0.278 - 0.334*(length(split(datum.label,'i')) + length(split(datum.label,'l')) - 2) - 0.278*(length(split(datum.label,'f')) + length(split(datum.label,'t')) + length(split(datum.label,' ')) + length(split(datum.label,':')) + length(split(datum.label,'.')) - 5) - 0.223*(length(split(datum.label,'r')) - 1) - 0.056*(length(split(datum.label,'s')) + length(split(datum.label,'c')) + length(split(datum.label,'v')) + length(split(datum.label,'x')) - 4) + 0.111*(length(split(datum.label,'P')) + length(split(datum.label,'S')) - 2) + 0.166*(length(split(datum.label,'N')) + length(split(datum.label,'D')) - 2) + 0.277*(length(split(datum.label,'M')) + length(split(datum.label,'m')) - 2))"}, "font": "Liberation Sans", "fontSize": 23, "fontWeight": "bold", "color": "#000"},
"encoding": {
"y": {"field": "line", "type": "quantitative", "scale": {"domain": [-0.826, 33.141], "reverse": true, "nice": false, "zero": false}, "axis": null},
"text": {"field": "value"}
}
},
{
"data": {"name": "heads"},
"mark": {"type": "text", "align": "left", "baseline": "alphabetic", "x": {"expr": "width + 14"}, "font": "Liberation Sans", "fontSize": 26, "fontWeight": "bold", "color": "#000"},
"encoding": {
"y": {"field": "line", "type": "quantitative", "scale": {"domain": [-0.826, 33.141], "reverse": true, "nice": false, "zero": false}, "axis": null},
"text": {"field": "text"}
}
},
{
"data": {"name": "subheads"},
"mark": {"type": "text", "align": "left", "baseline": "alphabetic", "x": {"expr": "width + 14"}, "font": "Liberation Sans", "fontSize": 23, "fontWeight": "bold", "color": "#000"},
"encoding": {
"y": {"field": "line", "type": "quantitative", "scale": {"domain": [-0.826, 33.141], "reverse": true, "nice": false, "zero": false}, "axis": null},
"text": {"field": "text"}
}
},
{
"data": {"name": "flags"},
"mark": {"type": "text", "align": "left", "baseline": "alphabetic", "x": {"expr": "width + 14"}, "font": "Liberation Sans", "fontSize": 23, "color": "#000"},
"encoding": {
"y": {"field": "line", "type": "quantitative", "scale": {"domain": [-0.826, 33.141], "reverse": true, "nice": false, "zero": false}, "axis": null},
"text": {"field": "flag"}
}
},
{
"data": {"name": "flags"},
"mark": {"type": "circle", "x": {"expr": "width + 97"}, "yOffset": -7, "size": 177, "color": "#000", "opacity": 1},
"encoding": {
"y": {"field": "line", "type": "quantitative", "scale": {"domain": [-0.826, 33.141], "reverse": true, "nice": false, "zero": false}, "axis": null}
}
},
{
"data": {"name": "flags"},
"mark": {"type": "text", "align": "left", "baseline": "alphabetic", "x": {"expr": "width + 160"}, "font": "Liberation Sans", "fontSize": 23, "fontWeight": "bold", "color": "#000"},
"encoding": {
"y": {"field": "line", "type": "quantitative", "scale": {"domain": [-0.826, 33.141], "reverse": true, "nice": false, "zero": false}, "axis": null},
"text": {"field": "count"}
}
}
],
"resolve": {"scale": {"y": "independent"}, "axis": {"x": "independent", "y": "independent"}}
}
